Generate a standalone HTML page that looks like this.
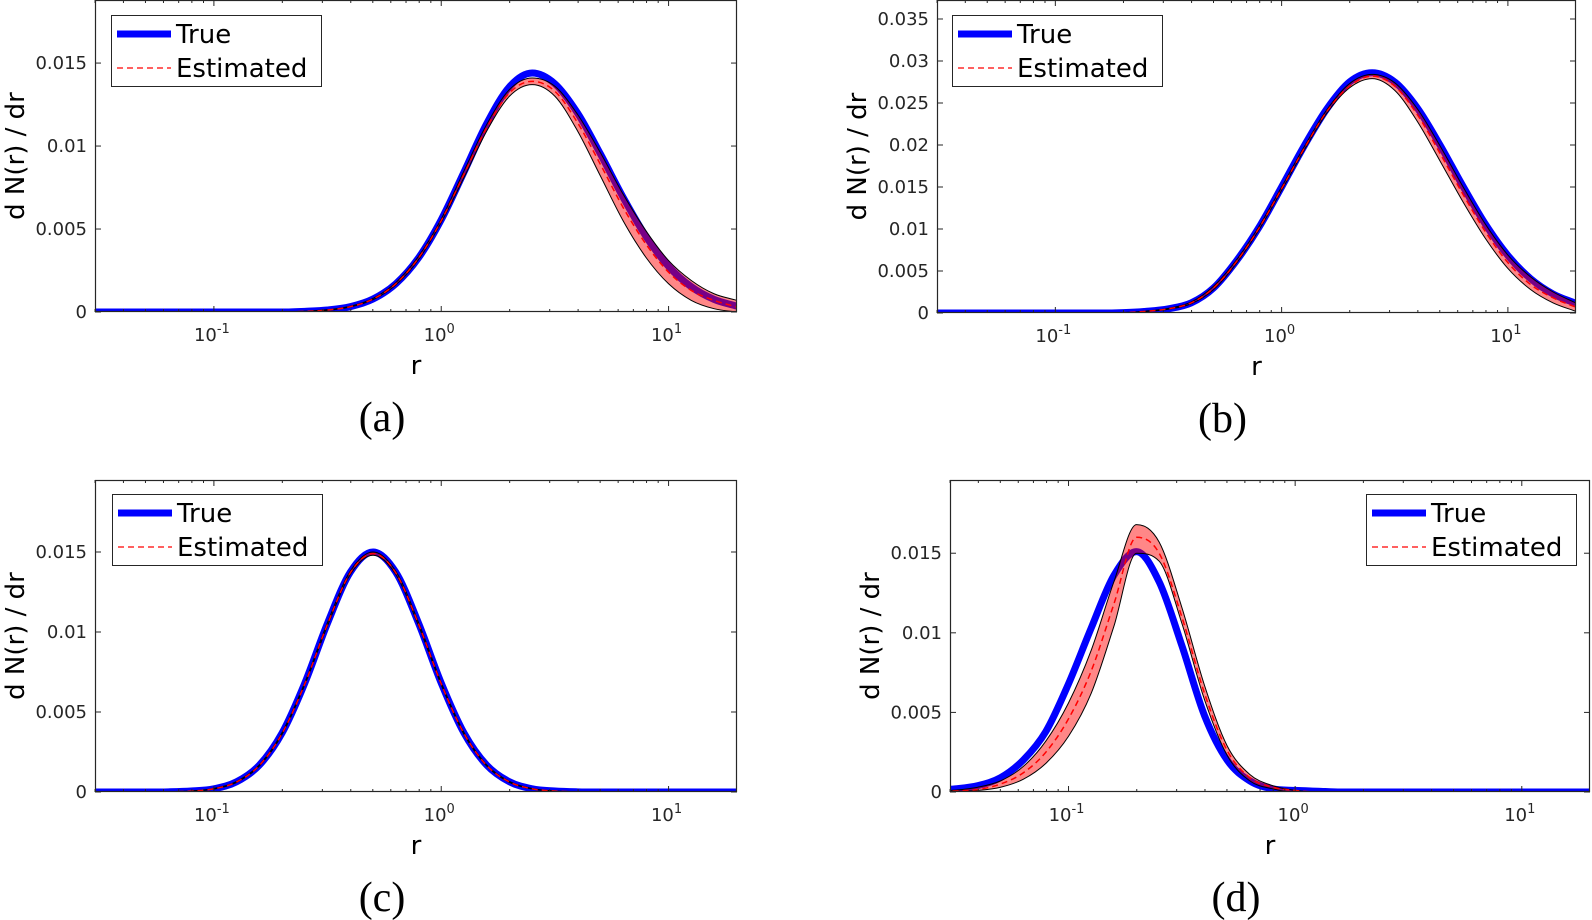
<!DOCTYPE html>
<html><head><meta charset="utf-8">
<style>
html,body{margin:0;padding:0;background:#fff;}
svg{display:block;}
text{font-family:"DejaVu Sans","Liberation Sans",sans-serif;}
text.cap{font-family:"Liberation Serif",serif;}
</style></head>
<body>
<svg id="fig" width="1592" height="920" viewBox="0 0 1592 920" xmlns="http://www.w3.org/2000/svg"></svg>
<script>
// ---- data (log10 r grid and dN/dr values) ----
const aL=[-1.6,-1.5,-1.4,-1.3,-1.2,-1.1,-1.0,-0.9,-0.8,-0.7,-0.6,-0.5,-0.4,-0.3,-0.2,-0.1,0,0.1,0.2,0.3,0.4,0.5,0.6,0.7,0.8,0.9,1.0,1.1,1.2,1.3];
const aTrue=[0,0,0,0,0,0,0,0,0,0,.00004,.00012,.00032,.00078,.0017,.00326,.00556,.00843,.01135,.01357,.0144,.01375,.01198,.00953,.00691,.00457,.00275,.00152,.00076,.00035];
const aEst=[0,0,0,0,0,0,0,0,0,0,.00004,.00012,.00032,.00078,.0017,.00325,.0055,.0083,.0111,.0132,.0139,.0133,.0114,.0089,.0063,.0041,.0024,.0013,.0007,.0003];
const aLo=[0,0,0,0,0,0,0,0,0,0,.00003,.0001,.0003,.00074,.00163,.00315,.0054,.0081,.0109,.0130,.0137,.0130,.0109,.0082,.0055,.0033,.0017,.0007,.0002,0];
const aHi=[0,0,0,0,0,0,0,0,0,0,.00005,.00014,.00035,.00082,.00177,.00335,.0056,.0085,.0113,.0134,.0141,.0136,.0119,.0096,.0071,.0049,.0031,.0019,.0011,.0007];

const bL=aL;
const bTrue=[0,0,0,0,0,0,0,0,0,.00005,.0002,.0005,.0012,.0030,.0062,.0102,.0150,.0199,.0243,.0275,.0286,.0275,.0244,.0200,.01516,.0106,.00685,.00409,.00226,.00115];
const bEst=[0,0,0,0,0,0,0,0,0,.00005,.0002,.0005,.0012,.0030,.0061,.0101,.0148,.0196,.0240,.0270,.0282,.0270,.0236,.0190,.0142,.0097,.0060,.0034,.0018,.0007];
const bLo=[0,0,0,0,0,0,0,0,0,.00004,.00017,.00045,.0011,.0028,.0059,.0099,.0146,.0194,.0238,.0268,.0279,.0265,.0228,.0181,.0133,.0089,.0053,.0028,.0012,.0002];
const bHi=[0,0,0,0,0,0,0,0,0,.00006,.00023,.00055,.0013,.0032,.0063,.0103,.0150,.0198,.0242,.0273,.0284,.0274,.0243,.0199,.0151,.0106,.0069,.0043,.0025,.0012];

const cL=aL;
const cTrue=[0,0,0,0,.00001,.00006,.0002,.00064,.00168,.00369,.00681,.01056,.01374,.0150,.01374,.01056,.00681,.00369,.00168,.00064,.0002,.00006,.00001,0,0,0,0,0,0,0];
const cEst=[0,0,0,0,.00001,.00006,.0002,.00063,.00166,.00366,.00676,.0105,.0137,.0149,.0137,.0105,.00676,.00366,.00166,.00063,.0002,.00006,.00001,0,0,0,0,0,0,0];
const cLo=[0,0,0,0,0,.00005,.00018,.0006,.00162,.0036,.0067,.0104,.0136,.0148,.0136,.0104,.0067,.0036,.00162,.0006,.00018,.00005,0,0,0,0,0,0,0,0];
const cHi=[0,0,0,0,.00002,.00007,.00022,.00066,.0017,.00372,.00684,.0106,.0138,.0150,.0138,.0106,.00684,.00372,.0017,.00066,.00022,.00007,.00002,0,0,0,0,0,0,0];

const dL=aL;
const dTrue=[.0001,.0002,.0004,.0009,.0020,.0038,.0068,.0103,.0136,.0151,.0132,.0092,.0048,.0020,.0007,.0002,.0001,.00005,0,0,0,0,0,0,0,0,0,0,0,0];
const dEst=[.00002,.00006,.00016,.0005,.0012,.0025,.0046,.0076,.0118,.0160,.0150,.0110,.0062,.0026,.0009,.0003,.0001,0,0,0,0,0,0,0,0,0,0,0,0,0];
const dLo=[0,.00003,.0001,.0003,.0008,.0018,.0035,.0062,.0104,.0150,.0145,.0106,.0058,.0023,.0007,.0002,0,0,0,0,0,0,0,0,0,0,0,0,0,0];
const dHi=[.00005,.00012,.0003,.0007,.0016,.0032,.0056,.0089,.0132,.0168,.0157,.0116,.0067,.0029,.0011,.0004,.0001,0,0,0,0,0,0,0,0,0,0,0,0,0];

const yTicksSmall=[0,0.005,0.01,0.015];
const yTicksSmallLbl=["0","0.005","0.01","0.015"];
const yTicksB=[0,0.005,0.01,0.015,0.02,0.025,0.03,0.035];
const yTicksBLbl=["0","0.005","0.01","0.015","0.02","0.025","0.03","0.035"];
const xDecades=[-1,0,1];
const xDecadeLbl=["-1","0","1"];

const NS="http://www.w3.org/2000/svg";
const svg=document.getElementById('fig');
function mk(tag,attrs,parent){const e=document.createElementNS(NS,tag);for(const k in attrs)e.setAttribute(k,attrs[k]);(parent||svg).appendChild(e);return e;}

function monoPath(px,py){
  const n=px.length;const dx=[],m=[],t=new Array(n);
  for(let i=0;i<n-1;i++){dx.push(px[i+1]-px[i]);m.push((py[i+1]-py[i])/(px[i+1]-px[i]));}
  t[0]=m[0];t[n-1]=m[n-2];
  for(let i=1;i<n-1;i++){t[i]=(m[i-1]*m[i]<=0)?0:(m[i-1]+m[i])/2;}
  for(let i=0;i<n-1;i++){if(m[i]===0){t[i]=0;t[i+1]=0;continue;}const a=t[i]/m[i],b=t[i+1]/m[i];const s=a*a+b*b;if(s>9){const k=3/Math.sqrt(s);t[i]=k*a*m[i];t[i+1]=k*b*m[i];}}
  let d='M'+px[0].toFixed(2)+','+py[0].toFixed(2);
  for(let i=0;i<n-1;i++){const h=dx[i]/3;d+=' C'+(px[i]+h).toFixed(2)+','+(py[i]+t[i]*h).toFixed(2)+' '+(px[i+1]-h).toFixed(2)+','+(py[i+1]-t[i+1]*h).toFixed(2)+' '+px[i+1].toFixed(2)+','+py[i+1].toFixed(2);}
  return d;
}

function panel(P){
  const g=mk('g',{});
  
  
  const L0=-1.523,L1=1.301;
  const xs=L=>P.x0+(L-L0)/(L1-L0)*(P.x1-P.x0);
  const ys=v=>P.y1-v/P.ymax*(P.y1-P.y0);
  const cid='clip'+P.id;
  const cp=mk('clipPath',{id:cid},g);mk('rect',{x:P.x0,y:P.y0,width:P.x1-P.x0,height:P.y1-P.y0},cp);
  const dg=mk('g',{'clip-path':'url(#'+cid+')'},g);
  const px=P.L.map(xs);
  const tl=mk('path',{d:monoPath(px,P.tr.map(ys)),fill:'none',stroke:'#0000ff','stroke-width':7,'stroke-linejoin':'round'},dg);
  
  
  const hiD=monoPath(px,P.hi.map(ys));
  const lopx=px.slice().reverse(),lopy=P.lo.map(ys).reverse();
  const loD=monoPath(lopx,lopy);
  const band=mk('path',{d:hiD+' L'+loD.slice(1)+' Z',fill:'rgba(255,0,0,0.47)',stroke:'none'},dg);
  
  
  mk('path',{d:hiD,fill:'none',stroke:'#000','stroke-width':1},dg);
  mk('path',{d:loD,fill:'none',stroke:'#000','stroke-width':1},dg);
  const el=mk('path',{d:monoPath(px,P.est.map(ys)),fill:'none',stroke:'#ff0000','stroke-width':1.5,'stroke-dasharray':'6,4'},dg);
  
  
  const box=mk('rect',{x:P.x0+0.5,y:P.y0+0.5,width:P.x1-P.x0-1,height:P.y1-P.y0-1,fill:'none',stroke:'#262626','stroke-width':1.2},g);
  
  
  for(let k=-2;k<=1;k++){for(let j=1;j<=9;j++){const L=k+Math.log10(j);if(L<L0||L>L1)continue;const x=xs(L);const len=j===1?6:3;
    mk('line',{x1:x,x2:x,y1:P.y1,y2:P.y1-len,stroke:'#262626','stroke-width':1},g);
    mk('line',{x1:x,x2:x,y1:P.y0,y2:P.y0+len,stroke:'#262626','stroke-width':1},g);}}
  xDecades.forEach((k,i)=>{const x=xs(k);
    const t=mk('text',{x:x-2,y:P.y1+29,'font-size':18,fill:'#262626','text-anchor':'middle'},g);
    
    
    t.textContent='10';
    const s=mk('tspan',{dy:-8,'font-size':13},t);s.textContent=xDecadeLbl[i];});
  P.yt.forEach((v,i)=>{const y=ys(v);
    mk('line',{x1:P.x0,x2:P.x0+6,y1:y,y2:y,stroke:'#262626','stroke-width':1},g);
    mk('line',{x1:P.x1,x2:P.x1-6,y1:y,y2:y,stroke:'#262626','stroke-width':1},g);
    const t=mk('text',{x:P.x0-8,y:y+6,'font-size':18,fill:'#262626','text-anchor':'end'},g);
    
    
    t.textContent=P.ytl[i];});
  const yl=mk('text',{x:0,y:0,'font-size':26,fill:'#000','text-anchor':'middle',transform:'translate('+(P.x0-71)+','+((P.y0+P.y1)/2)+') rotate(-90)'},g);
  
  
  yl.textContent='d N(r) / dr';
  const xl=mk('text',{x:(P.x0+P.x1)/2,y:P.y1+62,'font-size':26,fill:'#000','text-anchor':'middle'},g);
  
  
  xl.textContent='r';
  const cap=mk('text',{x:(P.x0+P.x1)/2-34,y:P.y1+119,'font-size':42,fill:'#000','text-anchor':'middle','class':'cap'},g);
  
  
  cap.textContent='('+P.id+')';
  const lg=mk('g',{},g);
  
  
  mk('rect',{x:P.lx+0.5,y:P.ly+0.5,width:210,height:71,fill:'#fff',stroke:'#262626','stroke-width':1},lg);
  mk('line',{x1:P.lx+6,x2:P.lx+60,y1:P.ly+19,y2:P.ly+19,stroke:'#0000ff','stroke-width':7},lg);
  const t1=mk('text',{x:P.lx+65,y:P.ly+28,'font-size':26,fill:'#000'},lg);
  
  
  t1.textContent='True';
  mk('line',{x1:P.lx+6,x2:P.lx+60,y1:P.ly+53,y2:P.ly+53,stroke:'#ff0000','stroke-width':1.2,'stroke-dasharray':'6,4'},lg);
  const t2=mk('text',{x:P.lx+65,y:P.ly+62,'font-size':26,fill:'#000'},lg);
  
  
  t2.textContent='Estimated';
}

panel({id:'a',x0:95,x1:737,y0:0,y1:312,ymax:0.0188,L:aL,tr:aTrue,est:aEst,lo:aLo,hi:aHi,yt:yTicksSmall,ytl:yTicksSmallLbl,lx:111,ly:15});
panel({id:'b',x0:937,x1:1576,y0:0,y1:313,ymax:0.03726,L:bL,tr:bTrue,est:bEst,lo:bLo,hi:bHi,yt:yTicksB,ytl:yTicksBLbl,lx:952,ly:15});
panel({id:'c',x0:95,x1:737,y0:480,y1:792,ymax:0.0195,L:cL,tr:cTrue,est:cEst,lo:cLo,hi:cHi,yt:yTicksSmall,ytl:yTicksSmallLbl,lx:112,ly:494});
panel({id:'d',x0:950,x1:1590,y0:480,y1:792,ymax:0.0196,L:dL,tr:dTrue,est:dEst,lo:dLo,hi:dHi,yt:yTicksSmall,ytl:yTicksSmallLbl,lx:1366,ly:494});
</script>
</body></html>
